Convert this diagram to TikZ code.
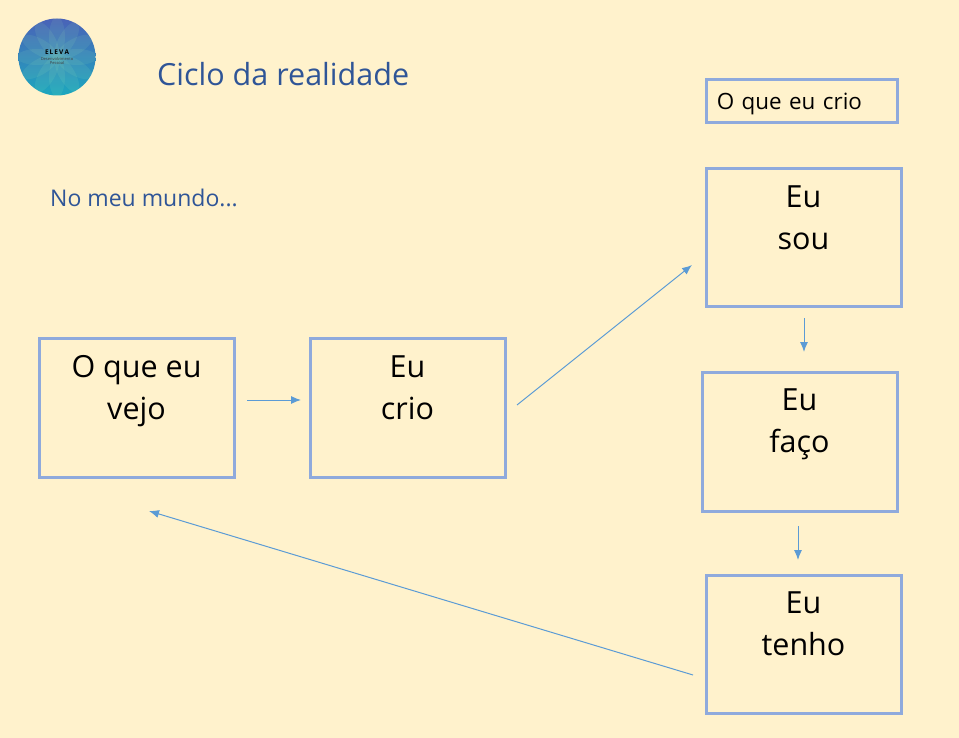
\documentclass[tikz,border=0pt]{standalone}
\usepackage{fontspec}
\setmainfont{Open Sans}
\usetikzlibrary{arrows.meta}
\definecolor{fundo}{HTML}{FFF2CC}
\definecolor{borda}{HTML}{8FAADC}
\definecolor{seta}{HTML}{5B9BD5}
\definecolor{titulo}{HTML}{2F5597}
\definecolor{logotopo}{HTML}{4A62B8}
\definecolor{logobase}{HTML}{1CA8BE}
\tikzstyle{caixa}=[draw=borda, line width=3pt, minimum width=195pt, minimum height=138.5pt, inner sep=0pt, align=center, font=\fontsize{30.5}{42}\selectfont]
\tikzstyle{seta}=[draw=seta, line width=1pt, -{Latex[length=10pt, width=8pt]}]
\tikzstyle{rotulo}=[text=titulo, anchor=west, inner sep=0pt]

\begin{document}
\begin{tikzpicture}[x=1pt, y=-1pt]
                \fill[fundo] (0, 0) rectangle (959, 738);
                % logo
                \begin{scope}
                    \clip (57, 57) circle (38.5);
                    \shade[top color=logotopo, bottom color=logobase] (18, 18) rectangle (96, 96);
                    \foreach \ang in {0, 30, ..., 330}
                        \fill[white!70!green, opacity=0.09, rotate around={\ang:(57, 57)}] (57, 37) ellipse (8 and 20);
                \end{scope}
                \node[inner sep=0pt, font=\fontsize{6.5}{6.5}\selectfont\bfseries] (marca) at (57, 52) {E\,L\,E\,V\,A};
                \node[inner sep=0pt, align=center, text=black!75, font=\fontsize{4}{4.4}\selectfont] (sub) at (57, 61) {Desenvolvimento\\Pessoal};
                % titles
                \node[rotulo, font=\fontsize{30.5}{32}\selectfont] (ciclo) at (157, 74) {Ciclo da realidade};
                \node[rotulo, font=\fontsize{23}{24}\selectfont] (mundo) at (50, 198) {No meu mundo...};
                % boxes
                \node[draw=borda, line width=3pt, minimum width=190.5pt, minimum height=42.5pt, inner sep=0pt, text width=170pt, align=left, font=\fontsize{22.4}{24}\selectfont, text depth=0pt] (cria) at (801.75, 101) {O que eu crio};
                \node[caixa] (vejo) at (136.5, 407.75) {O que eu\\vejo\\[-2pt]\mbox{}};
                \node[caixa] (crio) at (407.5, 407.75) {Eu\\crio\\[-2pt]\mbox{}};
                \node[caixa] (sou) at (803.5, 237.5) {Eu\\sou\\[-2pt]\mbox{}};
                \node[caixa] (faco) at (799.5, 441.75) {Eu\\faço\\\mbox{}};
                \node[caixa] (tenho) at (803.5, 644.5) {Eu\\tenho\\\mbox{}};
                % arrow ends
                \coordinate (a1) at (247, 400);
                \coordinate (a2) at (301, 400);
                \coordinate (b1) at (517, 405);
                \coordinate (b2) at (692, 265);
                \coordinate (c1) at (804, 318);
                \coordinate (c2) at (804, 352);
                \coordinate (d1) at (798, 526);
                \coordinate (d2) at (798, 560);
                \coordinate (e1) at (693, 675);
                \coordinate (e2) at (149, 511);
                \draw[seta] (a1)--(a2);
                \draw[seta] (b1)--(b2);
                \draw[seta] (c1)--(c2);
                \draw[seta] (d1)--(d2);
                \draw[seta] (e1)--(e2);
            \end{tikzpicture}
\end{document}
